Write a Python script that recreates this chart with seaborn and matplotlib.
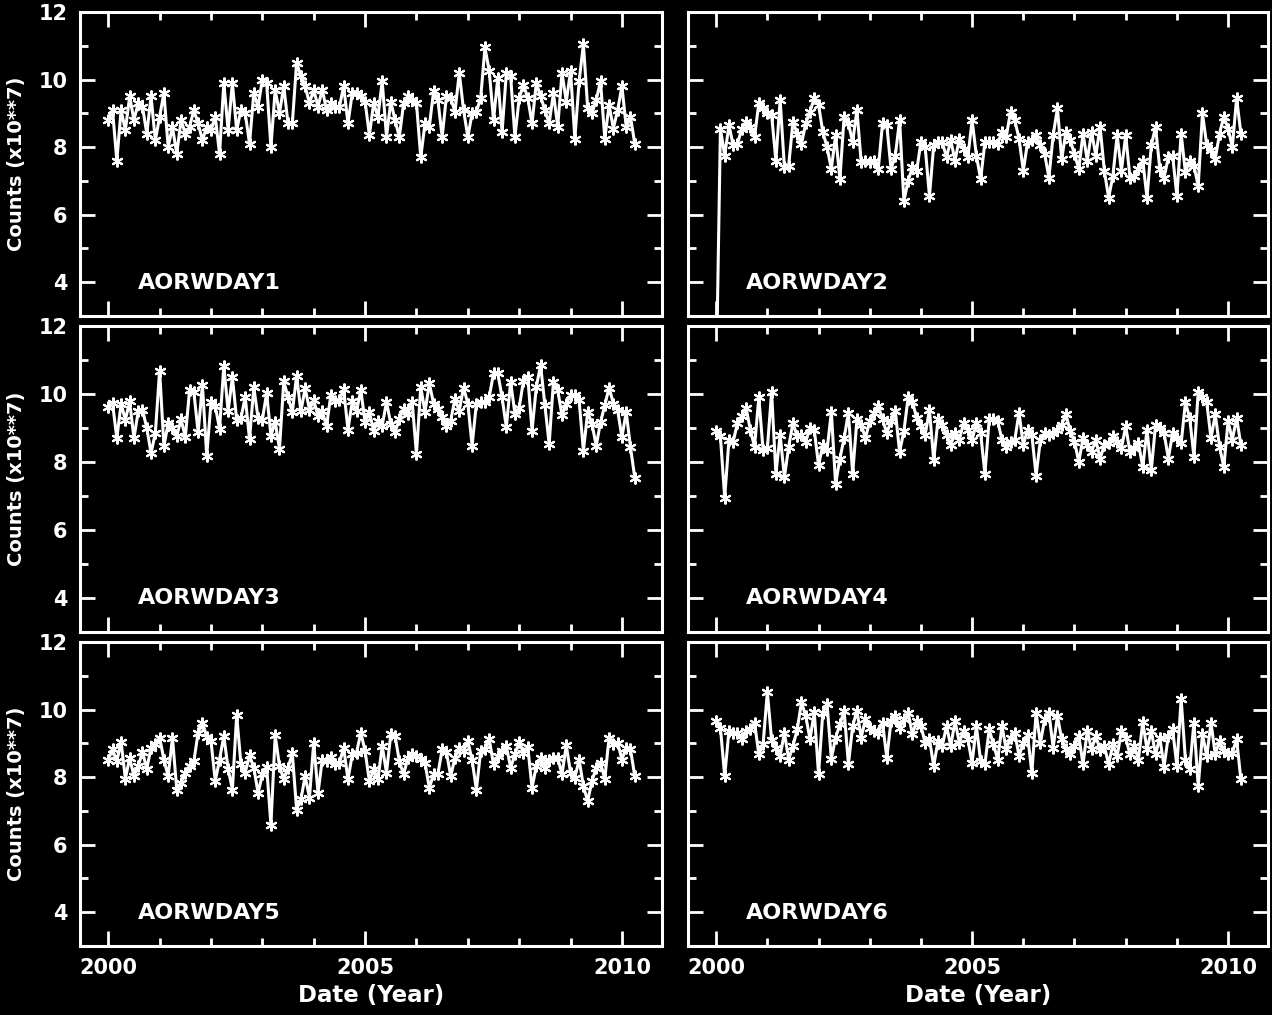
import matplotlib
matplotlib.use('Agg')
import matplotlib.pyplot as plt
from matplotlib.ticker import MultipleLocator
import numpy as np
import pandas as pd
import seaborn as sns

# monthly counts (x10**7), starting 2000.0
names = ['AORWDAY1', 'AORWDAY2', 'AORWDAY3', 'AORWDAY4', 'AORWDAY5', 'AORWDAY6']

day1 = [8.8, 9.1, 7.6, 9.1, 8.5, 9.5, 8.8, 9.3, 9.2, 8.4, 9.5, 8.2,
        8.9, 9.6, 8.0, 8.6, 7.8, 8.8, 8.4, 8.6, 9.1, 8.7, 8.2, 8.6,
        8.5, 8.9, 7.8, 9.9, 8.5, 9.9, 8.5, 9.1, 9.0, 8.1, 9.6, 9.2,
        10.0, 9.9, 8.0, 9.7, 9.0, 9.8, 8.7, 8.7, 10.5, 10.1, 9.8, 9.3,
        9.7, 9.2, 9.7, 9.1, 9.3, 9.2, 9.2, 9.8, 8.7, 9.6, 9.6, 9.5,
        9.35, 8.35, 9.3, 8.9, 9.95, 8.3, 9.35, 8.8, 8.3, 9.3, 9.5, 9.4,
        9.3, 7.7, 8.7, 8.6, 9.65, 9.4, 8.3, 9.5, 9.45, 9.05, 10.2, 9.1,
        8.3, 9.0, 9.05, 9.45, 10.95, 10.25, 8.8, 10.05, 8.45, 10.2, 10.1, 8.3,
        9.45, 9.85, 9.45, 8.7, 9.9, 9.5, 9.1, 8.7, 9.6, 8.6, 10.2, 9.35,
        10.25, 8.25, 9.95, 11.05, 9.15, 9.0, 9.4, 9.95, 8.25, 9.25, 8.55, 9.1,
        9.8, 8.6, 8.9, 8.1]

day2 = [1.0, 8.55, 7.75, 8.65, 8.05, 8.1, 8.55, 8.75, 8.6, 8.3, 9.3, 9.15,
        9.0, 8.95, 7.6, 9.4, 7.4, 7.45, 8.75, 8.4, 8.1, 8.7, 9.05, 9.45,
        9.25, 8.45, 8.0, 7.35, 8.35, 7.05, 8.9, 8.7, 8.15, 9.1, 7.55, 7.6,
        7.55, 7.6, 7.35, 8.7, 8.65, 7.35, 7.75, 8.8, 6.4, 7.0, 7.4, 7.3,
        8.15, 8.0, 6.55, 8.05, 8.15, 8.15, 7.7, 8.2, 7.6, 8.25, 7.95, 7.7,
        8.8, 7.75, 7.05, 8.15,
        8.15, 8.15, 8.1, 8.45, 8.3, 9.05, 8.8, 8.25, 7.3, 8.15, 8.2, 8.35,
        8.05, 7.8, 7.1, 8.35, 9.15, 7.65, 8.45, 8.2, 7.8, 7.35, 8.4, 7.6,
        8.45, 7.75, 8.6, 7.3, 6.5, 7.15, 8.35, 7.3, 8.35, 7.1, 7.15, 7.35,
        7.6, 6.5, 8.05, 8.6, 7.35, 7.1, 7.7, 7.75, 6.55, 8.4, 7.25, 7.6,
        7.45, 6.85, 9.0, 8.05, 7.9, 7.65, 8.4, 8.9, 8.55, 8.0, 9.45, 8.4]

day3 = [9.63, 9.73, 8.7, 9.71, 9.24, 9.78, 8.7, 9.49, 9.54, 9.0,
        8.26, 8.85, 10.69, 8.46, 9.14, 9.0, 8.75, 9.26, 8.73, 10.12,
        10.05, 8.87, 10.27, 8.18, 9.75, 9.65, 8.97, 10.83, 9.49, 10.5,
        9.24, 9.29, 9.91, 8.67, 10.2, 9.29, 9.24, 10.03, 8.77, 9.19,
        8.38, 10.37, 9.91, 9.46, 10.54, 9.49, 10.17, 9.54, 9.83, 9.34,
        9.49, 9.05, 9.98, 9.78, 9.83, 10.14, 8.95, 9.78, 9.49, 10.12,
        9.17, 9.47, 8.92, 9.22, 9.07, 9.77, 9.12, 8.87, 9.27, 9.57,
        9.42, 9.77, 8.23, 10.21, 9.47, 10.31, 9.72, 9.57, 9.32, 9.07,
        9.22, 9.86, 9.5, 10.19, 9.72, 8.48, 9.72, 9.77, 9.77, 9.91,
        10.61, 10.61, 9.9, 9.02, 10.36, 9.42, 9.6, 10.39, 10.51, 8.92,
        10.21, 10.85, 9.67, 8.53, 10.36, 10.11, 9.37, 9.72, 9.96, 9.96,
        9.81, 8.33, 9.47, 9.12, 8.48, 9.17, 9.67, 10.19, 9.72, 9.52,
        8.73, 9.47, 8.43, 7.54]

day4 = [8.9, 8.75, 6.95, 8.65, 8.6, 9.15, 9.35, 9.6, 8.95, 8.45,
        9.9, 8.35, 8.4, 10.05, 7.65, 8.8, 7.55, 8.45, 9.15, 8.75,
        8.8, 8.6, 9.0, 8.95, 7.9, 8.5, 8.35, 9.47, 7.35, 8.1,
        8.7, 9.45, 7.65, 9.25, 9.1, 8.7, 9.2, 9.45, 9.65, 9.25,
        8.85, 9.2, 9.5, 8.3, 8.9, 9.9, 9.77, 9.3, 9.05, 8.8,
        9.53, 8.05, 9.25, 9.1, 8.8, 8.5, 8.85, 8.65, 9.15, 8.95, 8.65,
        9.15, 8.85, 7.65, 9.25, 9.25, 9.2, 8.65, 8.45, 8.6, 8.65,
        9.45, 8.5, 8.95, 8.8, 7.6, 8.65, 8.85, 8.8, 8.85, 8.95,
        9.1, 9.4, 8.9, 8.6, 8.0, 8.7, 8.5, 8.3, 8.65, 8.1,
        8.5, 8.55, 8.75, 8.6, 8.4, 9.05, 8.3, 8.4, 8.55, 7.85,
        8.95, 7.75, 9.1, 9.0, 8.85, 8.1, 8.85, 8.7, 8.55, 9.75,
        9.3, 8.15, 10.05, 9.9, 9.75, 8.7, 9.4, 8.45, 7.85, 9.2,
        8.65, 9.3, 8.5]

day5 = [8.52, 8.82, 8.47, 9.04, 7.95, 8.57, 8.03, 8.33, 8.74, 8.25,
        8.87, 8.97, 9.17, 8.52, 8.03, 9.17, 7.63, 7.83, 8.13, 8.33,
        8.47, 9.32, 9.61, 9.2, 9.07, 7.88, 8.52, 9.22, 8.25, 7.63,
        9.83, 8.38, 8.13, 8.64, 8.28, 7.53, 8.08, 8.31, 6.59, 9.24,
        8.33, 7.93, 8.28, 8.7, 7.04, 7.34, 8.03, 7.39, 9.02, 7.53,
        8.52, 8.47, 8.6, 8.38, 8.42, 8.87, 7.93, 8.67, 8.72, 9.32,
        8.77, 7.88, 8.23, 7.93, 8.92, 8.13, 9.27, 9.22, 8.47, 8.08,
        8.57, 8.67, 8.62, 8.54, 8.42, 7.68, 8.08, 8.08, 8.82, 8.74,
        8.03, 8.57, 8.87, 8.77, 9.07, 8.5, 7.63, 8.77, 8.82, 9.12,
        8.38, 8.62, 8.77, 8.92, 8.28, 8.67, 9.04, 8.72, 8.9, 7.68,
        8.33, 8.57, 8.28, 8.52, 8.57, 8.57, 8.08, 8.94, 8.13, 7.98,
        8.52, 7.73, 7.29, 7.88, 8.28, 8.42, 7.95, 9.17, 8.97, 9.02,
        8.52, 8.87, 8.82, 8.03]

day6 = [9.66, 9.46, 8.03, 9.37, 9.32, 9.32, 9.12, 9.37, 9.41, 9.61,
        8.67, 8.97, 10.52, 9.1, 8.87, 8.62, 9.32, 8.52, 8.92, 9.41,
        10.21, 9.81, 9.12, 9.93, 8.08, 9.91, 10.16, 8.54, 9.17, 9.56,
        9.96, 8.38, 9.51, 9.96, 9.17, 9.71, 9.46, 9.37, 9.32, 9.61,
        8.57, 9.66, 9.81, 9.46, 9.71, 9.91, 9.27, 9.66, 9.51, 9.02,
        9.12, 8.33, 9.07, 8.92, 9.51, 8.92, 9.66, 9.02, 9.37, 9.12, 8.42,
        9.51, 8.47, 8.38, 9.41, 8.97, 8.52, 9.51, 8.82, 9.17, 9.32,
        8.62, 9.02, 9.24, 8.13, 9.91, 9.0, 9.71, 9.91, 8.87, 9.81,
        9.12, 8.82, 8.67, 8.92, 9.22, 8.38, 9.37, 8.82, 9.22, 8.8,
        8.92, 8.38, 8.97, 8.62, 9.37, 9.17, 8.67, 8.92, 8.52, 9.63,
        8.82, 9.37, 8.67, 9.17, 8.31, 9.22, 9.41, 8.33, 10.31, 8.52,
        8.23, 9.61, 7.73, 9.27, 8.62, 9.61, 8.67, 9.07, 8.77, 8.67,
        8.72, 9.12, 7.93]

series = [day1, day2, day3, day4, day5, day6]

sns.set_theme(style='ticks', rc={
    'figure.facecolor': 'black',
    'axes.facecolor': 'black',
    'axes.edgecolor': 'white',
    'axes.linewidth': 2.2,
    'axes.grid': False,
    'text.color': 'white',
    'axes.labelcolor': 'white',
    'xtick.color': 'white',
    'ytick.color': 'white',
})
plt.rcParams['font.family'] = ['DejaVu Sans']
plt.rcParams['font.weight'] = 'bold'

W, H = 1272, 1015
fig = plt.figure(figsize=(W / 100, H / 100), dpi=100)

lefts = [80, 688]
widths = [582, 580]
rows = [(12, 316), (326, 632), (642, 946)]

for i, (name, vals) in enumerate(zip(names, series)):
    r, c = divmod(i, 2)
    top, bot = rows[r]
    ax = fig.add_axes([lefts[c] / W, 1 - bot / H, widths[c] / W, (bot - top) / H])
    df = pd.DataFrame({'year': 2000 + np.arange(len(vals)) / 12.0, 'counts': vals})
    sns.lineplot(data=df, x='year', y='counts', ax=ax, color='white',
                 linewidth=2.2, marker=(6, 2, 0), markersize=8.5,
                 markeredgewidth=1.5, markeredgecolor='white',
                 estimator=None, sort=False)

    ax.set_xlim(1999.45, 2010.78)
    ax.set_ylim(3, 12)
    ax.set_xticks([2000, 2005, 2010])
    ax.set_yticks([4, 6, 8, 10, 12])
    ax.xaxis.set_minor_locator(MultipleLocator(1))
    ax.yaxis.set_minor_locator(MultipleLocator(1))
    ax.tick_params(which='both', direction='in', top=True, right=True,
                   color='white', labelcolor='white', labelsize=15)
    ax.tick_params(which='major', length=11, width=2)
    ax.tick_params(which='minor', length=5.5, width=2)
    ax.tick_params(axis='x', pad=9)
    ax.tick_params(axis='y', pad=9)
    for s in ax.spines.values():
        s.set_color('white')
        s.set_linewidth(2.2)

    if c == 0:
        ax.set_ylabel('Counts (x10**7)', fontsize=14, fontweight='bold',
                      color='white', labelpad=9)
    else:
        ax.set_ylabel('')
        ax.tick_params(labelleft=False)
    if r == 2:
        ax.set_xlabel('Date (Year)', fontsize=16.5, fontweight='bold',
                      color='white', labelpad=4)
    else:
        ax.set_xlabel('')
        ax.tick_params(labelbottom=False)

    ax.text(0.10, 0.11, name, transform=ax.transAxes, color='white',
            fontsize=16, fontweight='bold', ha='left', va='center')

fig.savefig('out.png', dpi=100, facecolor='black')
